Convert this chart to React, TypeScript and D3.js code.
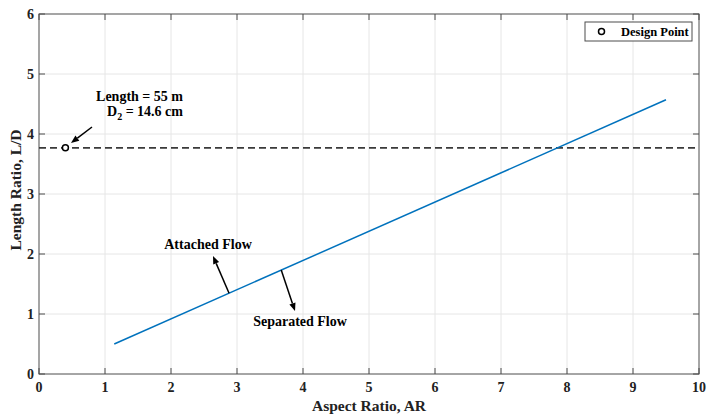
import React from "react";
import * as d3 from "d3";

// boundary between attached and separated flow
const boundaryAR = [1.14, 9.5];
const boundaryLD = [0.5, 4.57];

// design point
const designAR = 0.4;
const designLD = 3.77;

const xTickValues = [0, 1, 2, 3, 4, 5, 6, 7, 8, 9, 10];
const yTickValues = [0, 1, 2, 3, 4, 5, 6];

const width = 713, height = 415;
const left = 39, right = 699, top = 14, bottom = 374;
const font = "Liberation Serif, Times New Roman, serif";
const axisColor = "#4d4d4d";

const App = () => {
  const x = d3.scaleLinear().domain([0, 10]).range([left, right]);
  const y = d3.scaleLinear().domain([0, 6]).range([bottom, top]);

  const line = d3.line<number>()
    .x((d, i) => x(boundaryAR[i]))
    .y(d => y(d));

  // arrow helper: start point, head at (x2, y2)
  const arrow = (x1: number, y1: number, x2: number, y2: number) => {
    const a = Math.atan2(y2 - y1, x2 - x1);
    const L = 8, W = 3.2;
    const bx = x2 - L * Math.cos(a), by = y2 - L * Math.sin(a);
    const p1 = [bx + W * Math.sin(a), by - W * Math.cos(a)];
    const p2 = [bx - W * Math.sin(a), by + W * Math.cos(a)];
    return (
      <g>
        <line x1={x1} y1={y1} x2={bx} y2={by} stroke="black" strokeWidth={1.5} />
        <path d={`M${x2},${y2}L${p1[0]},${p1[1]}L${p2[0]},${p2[1]}Z`} fill="black" />
      </g>
    );
  };

  // points on the boundary line used for flow arrows
  const slope = (boundaryLD[1] - boundaryLD[0]) / (boundaryAR[1] - boundaryAR[0]);
  const onLine = (ar: number) => boundaryLD[0] + slope * (ar - boundaryAR[0]);
  const aAtt = 2.88, aSep = 3.67;

  return (
    <svg width={width} height={height} style={{ position: "absolute", left: 0, top: 0, fontFamily: font }}>
      <rect width={width} height={height} fill="white" />
      {/* grid */}
      {xTickValues.slice(1, -1).map(d => (
        <line key={"gx" + d} x1={x(d)} x2={x(d)} y1={top} y2={bottom} stroke="#e6e6e6" />
      ))}
      {yTickValues.slice(1, -1).map(d => (
        <line key={"gy" + d} x1={left} x2={right} y1={y(d)} y2={y(d)} stroke="#e6e6e6" />
      ))}
      {/* box */}
      <rect x={left} y={top} width={right - left} height={bottom - top} fill="none" stroke={axisColor} strokeWidth={1} />
      {xTickValues.map(d => (
        <g key={"tx" + d}>
          <line x1={x(d)} x2={x(d)} y1={bottom} y2={bottom - 6} stroke={axisColor} />
          <line x1={x(d)} x2={x(d)} y1={top} y2={top + 6} stroke={axisColor} />
          <text x={x(d)} y={392} textAnchor="middle" fontSize={14} fontWeight="bold" fill="#222">{d}</text>
        </g>
      ))}
      {yTickValues.map(d => (
        <g key={"ty" + d}>
          <line x1={left} x2={left + 6} y1={y(d)} y2={y(d)} stroke={axisColor} />
          <line x1={right} x2={right - 6} y1={y(d)} y2={y(d)} stroke={axisColor} />
          <text x={34} y={y(d) + 5} textAnchor="end" fontSize={14} fontWeight="bold" fill="#222">{d}</text>
        </g>
      ))}
      {/* dashed design level */}
      <line x1={left} x2={right} y1={y(designLD)} y2={y(designLD)} stroke="#3a3a3a" strokeWidth={1.8} strokeDasharray="7,4" />
      {/* boundary line */}
      <path d={line(boundaryLD) || ""} fill="none" stroke="#0072BD" strokeWidth={1.5} />
      {/* design point */}
      <circle cx={x(designAR)} cy={y(designLD)} r={3} fill="white" stroke="black" strokeWidth={1.5} />
      {arrow(92, 127, 71, 143)}
      <text x={183} y={101} textAnchor="end" fontSize={14} fontWeight="bold">Length = 55 m</text>
      <text x={183} y={116} textAnchor="end" fontSize={14} fontWeight="bold">
        D<tspan fontSize={10} dy={4}>2</tspan><tspan dy={-4}> = 14.6 cm</tspan>
      </text>
      {/* flow annotations */}
      {arrow(x(aAtt), y(onLine(aAtt)), 213, 256)}
      {arrow(x(aSep), y(onLine(aSep)), 295, 311)}
      <text x={208} y={249} textAnchor="middle" fontSize={14} fontWeight="bold">Attached Flow</text>
      <text x={300} y={326} textAnchor="middle" fontSize={14} fontWeight="bold">Separated Flow</text>
      {/* legend */}
      <rect x={585} y={22} width={107} height={19} fill="white" stroke={axisColor} />
      <circle cx={601.5} cy={31.5} r={3} fill="none" stroke="black" strokeWidth={1.5} />
      <text x={621} y={36} fontSize={12.5} fontWeight="bold">Design Point</text>
      {/* axis labels */}
      <text x={(left + right) / 2} y={411} textAnchor="middle" fontSize={15.5} fontWeight="bold" fill="#222">Aspect Ratio, AR</text>
      <text transform={`translate(21,${(top + bottom) / 2 - 4}) rotate(-90)`} textAnchor="middle" fontSize={15.5} fontWeight="bold" fill="#222">Length Ratio, L/D</text>
    </svg>
  );
};

export default App;
